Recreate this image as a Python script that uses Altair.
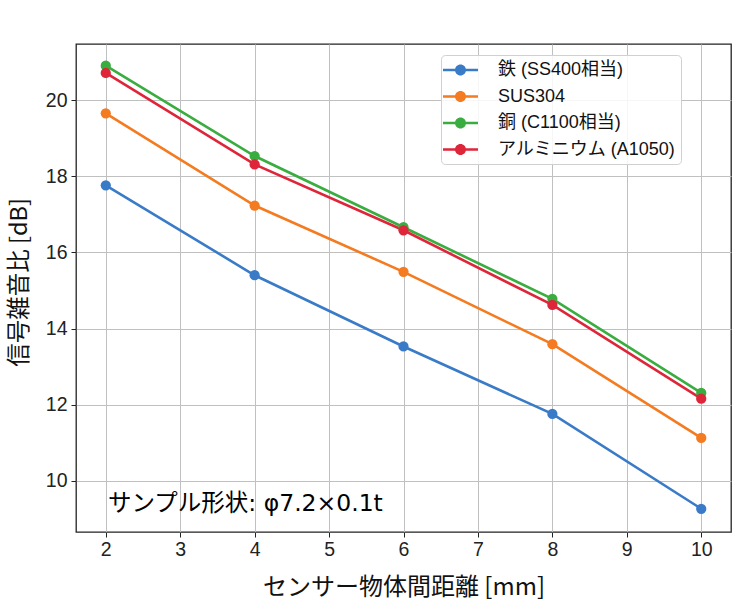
import altair as alt
import pandas as pd

distance = [2, 4, 6, 8, 10]
series_names = ["鉄 (SS400相当)", "SUS304", "銅 (C1100相当)", "アルミニウム (A1050)"]
snr_iron = [17.76, 15.40, 13.53, 11.76, 9.27]
snr_sus = [19.65, 17.23, 15.49, 13.59, 11.13]
snr_copper = [20.90, 18.53, 16.66, 14.78, 12.31]
snr_alu = [20.71, 18.31, 16.58, 14.62, 12.16]
colors = ["#3a7bc8", "#f47b20", "#3aad40", "#de2539"]
x_ticks = [2, 3, 4, 5, 6, 7, 8, 9, 10]
y_ticks = [10, 12, 14, 16, 18, 20]
annotation = "サンプル形状: φ7.2×0.1t"

rows = []
for name, vals in zip(series_names, [snr_iron, snr_sus, snr_copper, snr_alu]):
    for d, v in zip(distance, vals):
        rows.append({"distance": d, "snr": v, "series": name})
df = pd.DataFrame(rows)

LATIN = "Liberation Sans, Arial, Noto Sans CJK JP"
CJK = "Noto Sans CJK JP"
ANNO = "DejaVu Sans, Noto Sans CJK JP"

xenc = alt.X("distance:Q",
             scale=alt.Scale(domain=[1.6, 10.4], nice=False, zero=False),
             axis=alt.Axis(values=x_ticks, title="センサー物体間距離 [mm]",
                           titleFont=CJK, titleFontSize=24, titleFontWeight="normal",
                           titleColor="#111", titleY=55, titleBaseline="middle",
                           labelFont=LATIN, labelFontSize=19.5, labelColor="#222",
                           tickSize=5, tickColor="#222", labelPadding=3,
                           grid=True, gridColor="#c0c0c0", gridWidth=1,
                           domain=False))
yenc = alt.Y("snr:Q",
             scale=alt.Scale(domain=[8.66, 21.47], nice=False, zero=False),
             axis=alt.Axis(values=y_ticks, title="信号雑音比 [dB]",
                           titleFont=CJK, titleFontSize=23.5, titleFontWeight="normal",
                           titleColor="#111", titleX=-57, titleY=238,
                           titleAngle=270, titleAlign="center", titleBaseline="middle",
                           labelFont=LATIN, labelFontSize=19.5, labelColor="#222",
                           tickSize=5, tickColor="#222", labelPadding=4,
                           grid=True, gridColor="#c0c0c0", gridWidth=1,
                           domain=False))

color_scale = alt.Scale(domain=series_names, range=colors)

legend_symbol = ("M-1.3,-0.13 H-0.05 V0.13 H-1.3 Z "
                 "M0.95,-0.13 H2.2 V0.13 H0.95 Z "
                 "M-0.1,0 A0.55,0.55 0 1,1 1.0,0 A0.55,0.55 0 1,1 -0.1,0 Z")

lines = alt.Chart(df).mark_line(strokeWidth=2.6).encode(
    x=xenc, y=yenc,
    color=alt.Color("series:N", scale=color_scale, legend=None),
    detail="series:N",
)

points = alt.Chart(df).mark_point(filled=True, size=105, opacity=1).encode(
    x=xenc, y=yenc,
    color=alt.Color("series:N", scale=color_scale,
                    legend=alt.Legend(title=None, orient="none", legendX=365, legendY=11,
                                      symbolType=legend_symbol, symbolSize=400,
                                      symbolStrokeWidth=0, symbolOpacity=1,
                                      labelFont=LATIN, labelFontSize=18, labelColor="#111",
                                      labelOffset=32, rowPadding=7.5, padding=5,
                                      fillColor="rgba(255,255,255,0.85)",
                                      strokeColor="#d0d0d0", cornerRadius=4,
                                      labelLimit=300)),
)

text = alt.Chart(pd.DataFrame({"label": [annotation]})).mark_text(
    align="left", baseline="alphabetic", font=ANNO, fontSize=23.5, color="#000"
).encode(
    x=alt.value(32), y=alt.value(467), text="label:N"
)

chart = alt.layer(lines, points, text).resolve_scale(color="independent").properties(
    width=655, height=488,
    background="white",
    autosize=alt.AutoSizeParams(type="none"),
    padding={"left": 76, "top": 44, "right": 2, "bottom": 82},
).configure_view(stroke="#222", strokeWidth=1.3)

chart.save("out.html", embed_options={"renderer": "svg", "actions": False})
